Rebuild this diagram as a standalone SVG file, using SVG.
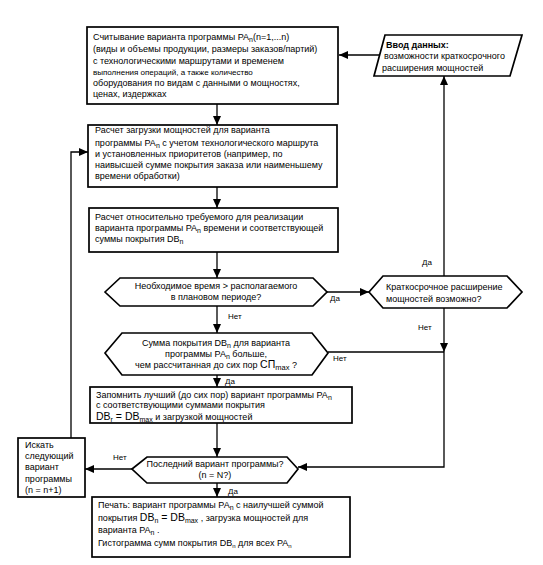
<svg xmlns="http://www.w3.org/2000/svg" width="543" height="565" viewBox="0 0 543 565">
<style>
.box{fill:#fff;stroke:#000;stroke-width:1.7}
.ln{fill:none;stroke:#000;stroke-width:1.3}
.t{font-family:"Liberation Sans",Arial,sans-serif;font-size:9px;fill:#000}
.s{font-size:8px}
.b{font-weight:bold}
.lab{font-family:"Liberation Sans",Arial,sans-serif;font-size:8px;fill:#000}
</style>
<defs>
<marker id="ah" markerWidth="9" markerHeight="8" refX="9" refY="4" orient="auto" markerUnits="userSpaceOnUse">
<path d="M0,0 L9,4 L0,8 z" fill="#000"/>
</marker>
</defs>
<rect width="543" height="565" fill="#fff"/>

<g id="connectors">
<line class="ln" x1="217" y1="104" x2="217" y2="125" marker-end="url(#ah)"/>
<line class="ln" x1="217" y1="187" x2="217" y2="208" marker-end="url(#ah)"/>
<line class="ln" x1="217" y1="252" x2="217" y2="278" marker-end="url(#ah)"/>
<line class="ln" x1="217" y1="306" x2="217" y2="333" marker-end="url(#ah)"/>
<line class="ln" x1="327" y1="292" x2="369" y2="292" marker-end="url(#ah)"/>
<line class="ln" x1="444" y1="276" x2="444" y2="76" marker-end="url(#ah)"/>
<line class="ln" x1="379" y1="55" x2="339" y2="55" marker-end="url(#ah)"/>
<line class="ln" x1="444" y1="308" x2="444" y2="352" marker-end="url(#ah)"/>
<line class="ln" x1="328" y1="352" x2="444" y2="352"/>
<polyline class="ln" points="444,352 444,467 298,467" marker-end="url(#ah)"/>
<line class="ln" x1="217" y1="375" x2="217" y2="387" marker-end="url(#ah)"/>
<line class="ln" x1="217" y1="423" x2="217" y2="457" marker-end="url(#ah)"/>
<line class="ln" x1="132" y1="469" x2="85" y2="469" marker-end="url(#ah)"/>
<polyline class="ln" points="71,438 71,152 88,152" marker-end="url(#ah)"/>
<line class="ln" x1="217" y1="483" x2="217" y2="497" marker-end="url(#ah)"/>
<text class="lab" x="228" y="319">Нет</text>
<text class="lab" x="330" y="301">Да</text>
<text class="lab" x="422" y="265">Да</text>
<text class="lab" x="418" y="330">Нет</text>
<text class="lab" x="333" y="361">Нет</text>
<text class="lab" x="225" y="384">Да</text>
<text class="lab" x="113" y="460">Нет</text>
<text class="lab" x="228" y="494">Да</text>
</g>

<g id="n1">
<rect class="box" x="87" y="27" width="251" height="77"/>
<text class="t" x="93" y="40">Считывание варианта программы PA<tspan dy="2" font-size="7">n</tspan><tspan dy="-2">(n=1,...n)</tspan></text>
<text class="t" x="93" y="52">(виды и объемы продукции, размеры заказов/партий)</text>
<text class="t" x="93" y="64"> с технологическими маршрутами и временем</text>
<text class="t s" x="93" y="75">выполнения операций, а также количество</text>
<text class="t" x="93" y="86" font-size="9.6">оборудования по видам с данными о мощностях,</text>
<text class="t" x="93" y="97">ценах, издержках</text>
</g>

<g id="n_input">
<polygon class="box" points="385,35 522,35 510,76 374,76"/>
<text class="t b" x="386" y="48">Ввод данных:</text>
<text class="t" x="384" y="59">возможности краткосрочного</text>
<text class="t" x="382" y="71">расширения мощностей</text>
</g>

<g id="n2">
<rect class="box" x="88" y="125" width="249" height="62"/>
<text class="t" x="95" y="133">Расчет загрузки мощностей для варианта</text>
<text class="t" x="95" y="146">программы PA<tspan dy="2" font-size="7">n</tspan><tspan dy="-2"> с учетом технологического маршрута</tspan></text>
<text class="t" x="95" y="157">и установленных приоритетов (например, по</text>
<text class="t" x="95" y="168">наивысшей сумме покрытия заказа или наименьшему</text>
<text class="t" x="95" y="179">времени обработки)</text>
</g>

<g id="n3">
<rect class="box" x="89" y="208" width="249" height="44"/>
<text class="t" x="95" y="220">Расчет относительно требуемого для реализации</text>
<text class="t" x="95" y="231">варианта программы PA<tspan dy="2" font-size="7">n</tspan><tspan dy="-2"> времени и соответствующей</tspan></text>
<text class="t" x="95" y="242">суммы покрытия DB<tspan dy="2" font-size="7">n</tspan></text>
</g>

<g id="d1">
<polygon class="box" points="105,292 120,278 313,278 327,292 313,306 120,306"/>
<text class="t" x="216" y="289" text-anchor="middle">Необходимое время &gt; располагаемого</text>
<text class="t" x="216" y="300" text-anchor="middle">в плановом периоде?</text>
</g>

<g id="d2">
<polygon class="box" points="369,292 383,276 507,276 522,292 507,308 383,308"/>
<text class="t" x="386" y="290">Краткосрочное расширение</text>
<text class="t" x="386" y="302">мощностей возможно?</text>
</g>

<g id="d3">
<polygon class="box" points="105,353 122,333 312,333 328,353 312,375 122,375"/>
<text class="t" x="216" y="346" text-anchor="middle">Сумма покрытия DB<tspan dy="2" font-size="7">n</tspan><tspan dy="-2"> для варианта</tspan></text>
<text class="t" x="216" y="357" text-anchor="middle">программы PA<tspan dy="2" font-size="7">n</tspan><tspan dy="-2"> больше,</tspan></text>
<text class="t" x="216" y="368" text-anchor="middle" font-size="8.6">чем рассчитанная до сих пор <tspan font-size="10.5">СП</tspan><tspan dy="2" font-size="7.5">max</tspan><tspan dy="-2"> ?</tspan></text>
</g>

<g id="n4">
<rect class="box" x="90" y="387" width="262" height="36"/>
<text class="t" x="96" y="398">Запомнить лучший (до сих пор) вариант программы PA<tspan dy="2" font-size="7">n</tspan></text>
<text class="t" x="96" y="408">с соответствующими суммами покрытия</text>
<text class="t" x="96" y="420"><tspan font-size="10.5">DB</tspan><tspan dy="2" font-size="7">r</tspan><tspan dy="-2" font-size="10.5"> = DB</tspan><tspan dy="2" font-size="7">max</tspan><tspan dy="-2"> и загрузкой мощностей</tspan></text>
</g>

<g id="d4">
<polygon class="box" points="132,469 147,457 287,457 298,469 287,483 147,483"/>
<text class="t" x="215" y="467" text-anchor="middle">Последний вариант программы?</text>
<text class="t" x="215" y="478" text-anchor="middle">(n = N?)</text>
</g>

<g id="n_next">
<rect class="box" x="18" y="438" width="67" height="59"/>
<text class="t" x="25" y="448">Искать</text>
<text class="t" x="25" y="459">следующий</text>
<text class="t" x="25" y="470">вариант</text>
<text class="t" x="25" y="482">программы</text>
<text class="t" x="25" y="493">(n = n+1)</text>
</g>

<g id="n5">
<rect class="box" x="92" y="497" width="258" height="60"/>
<text class="t" x="98" y="508">Печать: вариант программы PA<tspan dy="2" font-size="7">n</tspan><tspan dy="-2"> с наилучшей суммой</tspan></text>
<text class="t" x="98" y="521">покрытия <tspan font-size="10.5">DB</tspan><tspan dy="2" font-size="7">n</tspan><tspan dy="-2" font-size="10.5"> = DB</tspan><tspan dy="2" font-size="7">max</tspan><tspan dy="-2"> , загрузка мощностей для</tspan></text>
<text class="t" x="98" y="533">варианта PA<tspan dy="2" font-size="7">n</tspan><tspan dy="-2"> .</tspan></text>
<text class="t" x="98" y="546" font-size="7.5">Гистограмма сумм покрытия DB<tspan dy="2" font-size="6">n</tspan><tspan dy="-2"> для всех PA</tspan><tspan dy="2" font-size="6">n</tspan></text>
</g>
</svg>
